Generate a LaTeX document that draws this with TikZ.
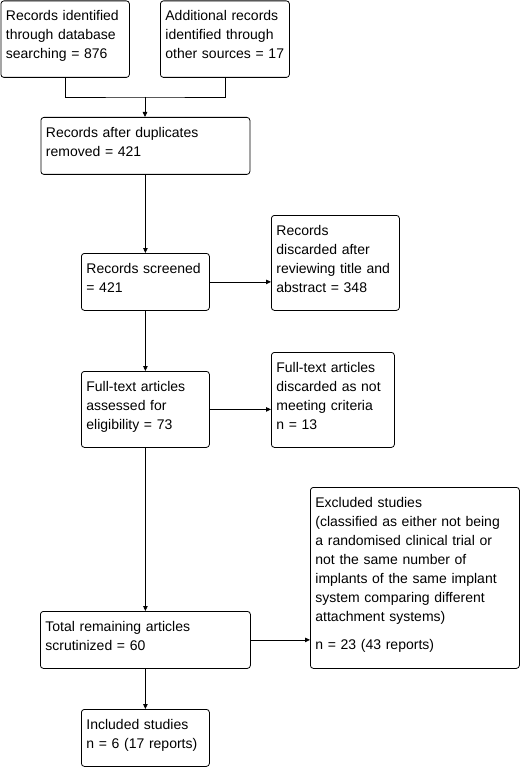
\documentclass[tikz,border=0pt]{standalone}
\usepackage{fontspec}
\setmainfont{Liberation Sans}
\usetikzlibrary{arrows.meta}
\begin{document}
\begin{tikzpicture}[x=1pt,y=-1pt,line width=0.8pt,
  box/.style={draw=black,rounded corners=3pt,anchor=north west,align=left,inner xsep=5pt,inner ysep=0pt,text height=20pt,font=\fontsize{14}{19}\selectfont},
  arr/.style={-{Triangle[length=5pt,width=4.5pt]}}]
\useasboundingbox (0,0) rectangle (521,767);

\node[box,text width=118.5pt,text depth=56.5pt] (db) at (0.5,0.5) {Records identified\\through database\\searching = 876};
\node[box,text width=119pt,text depth=56.5pt] (other) at (160,0.5) {Additional records\\identified through\\other sources = 17};
\node[box,text width=199pt,text depth=37pt] (dup) at (40.5,117) {Records after duplicates\\removed = 421};
\node[box,text width=118pt,text depth=37pt] (screen) at (81,253) {Records screened\\= 421};
\node[box,text width=118pt,text depth=75pt] (disc) at (271,215) {Records\\discarded after\\reviewing title and\\abstract = 348};
\node[box,text width=118pt,text depth=56pt] (full) at (81,371) {Full-text articles\\assessed for\\eligibility = 73};
\node[box,text width=113pt,text depth=75pt] (ftdisc) at (271,352) {Full-text articles\\discarded as not\\meeting criteria\\n = 13};
\node[box,text width=200pt,text depth=37pt] (total) at (40,611) {Total remaining articles\\scrutinized = 60};
\node[box,text width=199pt,text depth=161pt] (excl) at (310,487) {Excluded studies\\(classified as either not being\\a randomised clinical trial or\\not the same number of\\implants of the same implant\\system comparing different\\attachment systems)\\[9pt]n = 23 (43 reports)};
\node[box,text width=118pt,text depth=37pt] (incl) at (81,709) {Included studies\\n = 6 (17 reports)};

\coordinate (join) at (145,97);
\draw (db.south) |- (join) -| (other.south);
\draw[arr] (join) -- (join |- dup.north);
\draw[arr] (dup.south) -- (screen.north);
\draw[arr] (screen.east) -- (screen.east -| disc.west);
\draw[arr] (screen.south) -- (full.north);
\draw[arr] (full.east) -- (full.east -| ftdisc.west);
\draw[arr] (full.south) -- (full.south |- total.north);
\draw[arr] (total.east) -- (total.east -| excl.west);
\draw[arr] (total.south -| incl.north) -- (incl.north);
\end{tikzpicture}
\end{document}
